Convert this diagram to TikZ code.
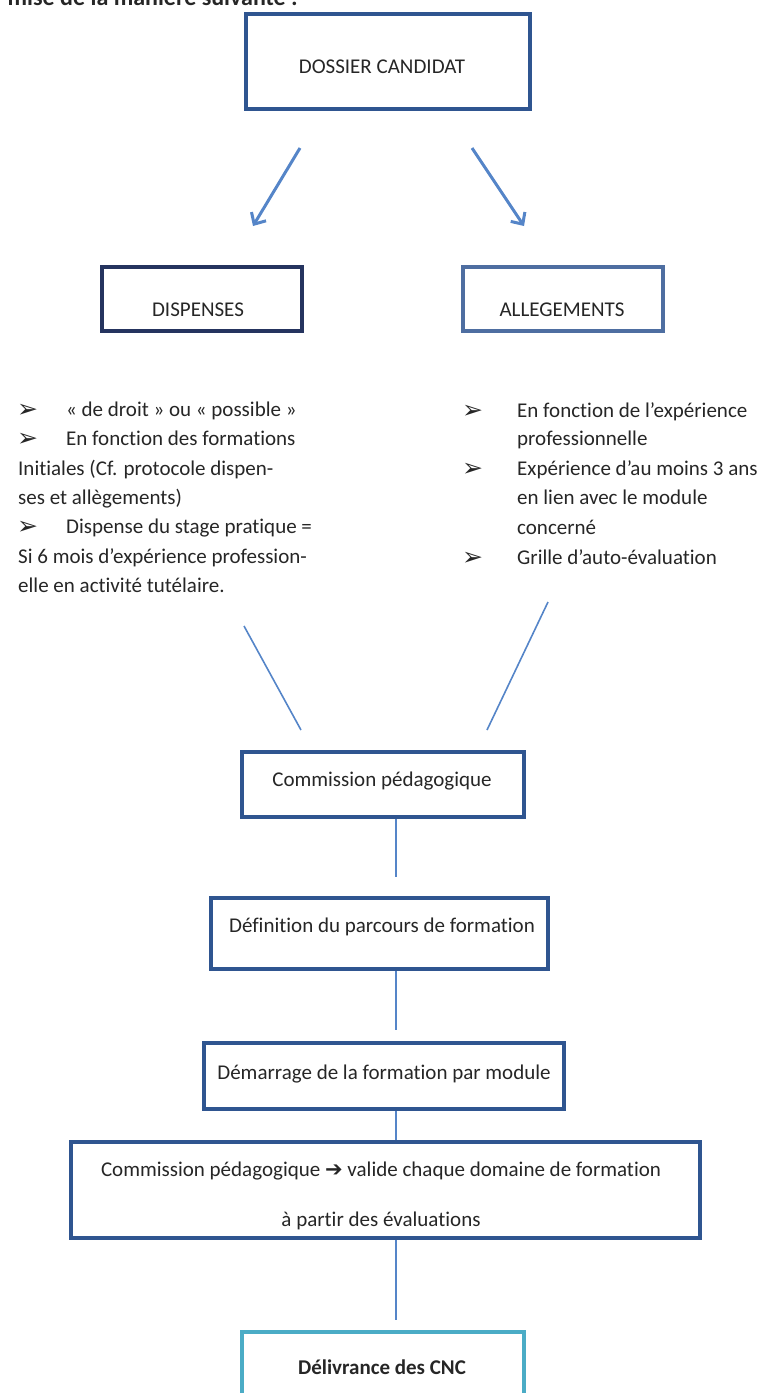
\documentclass[tikz,border=0pt]{standalone}
\usepackage{fontspec}
\setmainfont{Carlito}[Ligatures={NoCommon}]
\newfontfamily\symfont{DejaVu Sans}
\usetikzlibrary{arrows.meta}
\definecolor{boxblue}{HTML}{2F5590}
\definecolor{navybox}{HTML}{25345F}
\definecolor{lineblue}{HTML}{5585C8}
\definecolor{cyanbox}{HTML}{4BACC6}
\definecolor{txt}{HTML}{262626}
\begin{document}
\begin{tikzpicture}[x=1pt,y=-1pt,
  every node/.style={text=txt,font=\fontsize{21}{29.5}\selectfont},
  box/.style={draw=boxblue,line width=4pt,rectangle,inner sep=0pt},
  lbl/.style={anchor=center,inner sep=0pt},
  line/.style={anchor=base west,inner sep=0pt},
  bul/.style={anchor=base west,inner sep=0pt,font=\symfont\fontsize{25}{29.5}\selectfont},
  conn/.style={draw=lineblue,line width=1.6pt},
  arr/.style={draw=lineblue,line width=3pt,-{Straight Barb[length=9pt,width=17pt]}}]
\useasboundingbox (0,0) rectangle (763,1393);
% cropped heading
\node[anchor=base east,inner sep=0pt,font=\bfseries\fontsize{24}{29.5}\selectfont] (head) at (298,5) {mise de la manière suivante :};
% boxes
\node[box,minimum width=284pt,minimum height=95pt] (dossier) at (388,61.5) {};
\node[lbl] (dossierT) at (382,67) {DOSSIER CANDIDAT};
\node[box,draw=navybox,minimum width=200pt,minimum height=64pt] (disp) at (202,299) {};
\node[lbl] (dispT) at (198,310) {DISPENSES};
\node[box,minimum width=200pt,minimum height=64pt,draw=boxblue!85!white] (alleg) at (563,299) {};
\node[lbl] (allegT) at (562,310) {ALLEGEMENTS};
% arrows
\coordinate (a1s) at (300,148); \coordinate (a1e) at (253,226);
\coordinate (a2s) at (472,148); \coordinate (a2e) at (524,226);
\draw[arr] (a1s) -- (a1e);
\draw[arr] (a2s) -- (a2e);
% left list
\node[bul] (lb1) at (17,417) {➢};
\node[line] (l1) at (66,416) {« de droit » ou « possible »};
\node[bul] (lb2) at (17,446) {➢};
\node[line] (l2) at (66,445) {En fonction des formations};
\node[line] (l3) at (18,475) {Initiales (Cf. protocole dispen-};
\node[line] (l4) at (18,504) {ses et allègements)};
\node[bul] (lb3) at (17,534) {➢};
\node[line] (l5) at (66,533) {Dispense du stage pratique =};
\node[line] (l6) at (18,563) {Si 6 mois d’expérience profession-};
\node[line] (l7) at (18,592) {elle en activité tutélaire.};
% right list
\node[bul] (rb1) at (462,418) {➢};
\node[line] (r1) at (517,417) {En fonction de l’expérience};
\node[line] (r2) at (517,445) {professionnelle};
\node[bul] (rb2) at (462,476) {➢};
\node[line] (r3) at (517,475) {Expérience d’au moins 3 ans};
\node[line] (r4) at (517,504) {en lien avec le module};
\node[line] (r5) at (517,534) {concerné};
\node[bul] (rb3) at (462,565) {➢};
\node[line] (r6) at (517,564) {Grille d’auto-évaluation};
% converging lines
\coordinate (c1s) at (244,626); \coordinate (c1e) at (301,730);
\coordinate (c2s) at (548,602); \coordinate (c2e) at (487,730);
\draw[conn] (c1s) -- (c1e);
\draw[conn] (c2s) -- (c2e);
% lower chain
\node[box,minimum width=282pt,minimum height=65pt] (comm) at (383,784.5) {};
\node[lbl] (commT) at (382,781) {Commission pédagogique};
\node[box,minimum width=337pt,minimum height=71pt] (defin) at (379.5,933.5) {};
\node[lbl] (definT) at (382,927) {Définition du parcours de formation};
\node[box,minimum width=360pt,minimum height=66pt] (demar) at (384,1076) {};
\node[lbl] (demarT) at (384,1074) {Démarrage de la formation par module};
\node[box,minimum width=629pt,minimum height=96pt] (valid) at (385.5,1190) {};
\node[lbl] (validT1) at (381,1171) {Commission pédagogique {\symfont\bfseries\fontsize{21}{20}\selectfont ➔} valide chaque domaine de formation};
\node[lbl] (validT2) at (381,1221) {à partir des évaluations};
\node[box,draw=cyanbox,minimum width=282pt,minimum height=100pt] (deliv) at (383,1382) {};
\node[lbl,font=\bfseries\fontsize{21}{29.5}\selectfont] (delivT) at (382,1367) {Délivrance des CNC};
% vertical connectors
\coordinate (v1e) at (396,877);
\coordinate (v2e) at (396,1030);
\coordinate (v4e) at (396,1320);
\draw[conn] (comm.south -| v1e) -- (v1e);
\draw[conn] (defin.south -| v2e) -- (v2e);
\draw[conn] (demar.south -| v1e) -- (valid.north -| v1e);
\draw[conn] (valid.south -| v4e) -- (v4e);
\end{tikzpicture}
\end{document}
